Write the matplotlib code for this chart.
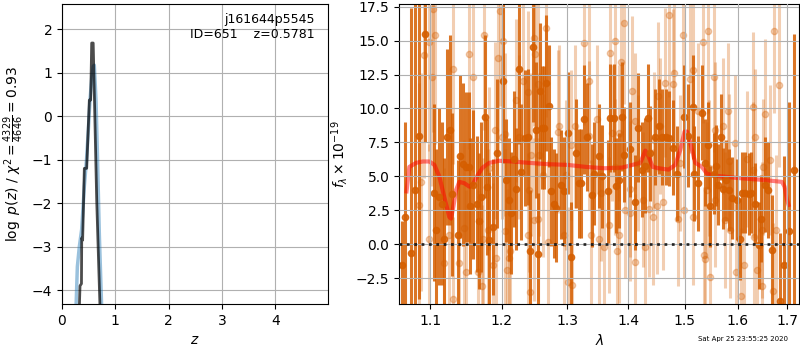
import matplotlib
matplotlib.use("Agg")
import matplotlib.pyplot as plt
from matplotlib.ticker import FormatStrFormatter, NullFormatter, NullLocator

# p(z) curves
pz_z = [0.263, 0.288, 0.325, 0.369, 0.42, 0.46, 0.494, 0.525, 0.56, 0.588, 0.606, 0.638, 0.663, 0.70, 0.744]
pz_logp = [-4.4, -3.46, -3.0, -2.6, -1.6, -1.0, -0.32, 0.37, 0.9, 1.15, 1.17, 0.37, -0.8, -2.7, -4.4]
chi_z = [0.325, 0.338, 0.365, 0.370, 0.387, 0.419, 0.463, 0.513, 0.538, 0.557, 0.585, 0.651, 0.713]
chi_logp = [-4.4, -3.9, -3.85, -2.8, -2.85, -1.2, -1.2, 0.37, 0.37, 1.68, 1.68, -1.93, -4.4]

# spectrum, beam 1 (dark)
wave_a = [1.0620, 1.0660, 1.0750, 1.0800, 1.0850, 1.0933, 1.1044, 1.1077, 1.1121, 1.1153,
          1.1180, 1.1227, 1.1262, 1.1290, 1.1373, 1.1410, 1.1442, 1.1490, 1.1526, 1.1550,
          1.1593, 1.1640, 1.1668, 1.1706, 1.1754, 1.1783, 1.1821, 1.1874, 1.1936, 1.2020,
          1.2064, 1.2102, 1.2142, 1.2176, 1.2216, 1.2261, 1.2291, 1.2351, 1.2386, 1.2416,
          1.2462, 1.2507, 1.2538, 1.2579, 1.2605, 1.2636, 1.2661, 1.2707, 1.2749, 1.2791,
          1.2827, 1.2895, 1.2942, 1.3006, 1.3053, 1.3133, 1.3181, 1.3213, 1.3262, 1.3322,
          1.3398, 1.3431, 1.3506, 1.3561, 1.3656, 1.3700, 1.3755, 1.3795, 1.3839, 1.3896,
          1.3923, 1.4038, 1.4112, 1.4171, 1.4240, 1.4298, 1.4345, 1.4385, 1.4461, 1.4543,
          1.4591, 1.4663, 1.4710, 1.4782, 1.4861, 1.4982, 1.5062, 1.5146, 1.5172, 1.5256,
          1.5320, 1.5382, 1.5433, 1.5471, 1.5540, 1.5591, 1.5623, 1.5673, 1.5712, 1.5777,
          1.5827, 1.5892, 1.5990, 1.6041, 1.6087, 1.6152, 1.6218, 1.6271, 1.6350, 1.6416,
          1.6470, 1.6550, 1.6605, 1.6686, 1.6856, 1.6931, 1.7030, 1.7150]
flux_a = [-1.5, 2.0, -0.6, 4.0, 8.0, 15.5, 3.8, 1.05, 3.5, 3.0,
          0.37, 7.9, 8.4, 3.7, 0.7, 6.5, 5.9, 5.7, 5.7, 2.8,
          4.4, 3.0, 1.75, 3.5, 9.4, 4.2, 0.3, 1.3, 6.7, 12.0,
          4.7, 3.3, 2.3, 6.3, 4.1, 12.9, 5.3, 7.8, 7.9, -0.5,
          14.5, 8.4, -0.7, 11.3, 8.6, 8.6, 11.9, 10.2, 3.9, 3.0,
          2.7, 4.4, 3.9, 8.2, -0.9, 6.7, 4.5, 4.5, 9.2, 7.9,
          3.6, 5.2, 6.5, 5.0, 3.9, 9.3, 9.3, 4.3, 4.7, 9.4,
          6.6, 7.0, 3.1, 8.6, 5.5, 5.8, 9.3, 6.7, 7.9, 8.7,
          7.9, 7.9, 7.8, 7.1, 5.2, 9.4, 8.0, 10.1, 5.2, 4.5,
          9.7, 6.0, 7.3, 2.8, 5.2, 5.8, 4.4, 7.9, 4.1, 4.7,
          4.0, 3.4, 3.3, 0.4, 3.8, 3.8, 3.7, 3.8, 3.0, -0.05,
          1.9, 4.4, 4.0, -0.4, -4.2, -1.5, 1.0, 5.5]
err_a = [3.2, 7.0, 18.0, 14.0, 12.0, 8.0, 6.5, 6.0, 6.5, 6.0,
         6.0, 6.5, 7.0, 6.0, 5.5, 6.0, 6.0, 5.5, 5.5, 5.0,
         5.5, 5.0, 5.0, 5.5, 6.0, 5.0, 5.0, 5.0, 5.5, 6.0,
         4.5, 4.5, 4.5, 5.0, 4.5, 5.5, 5.0, 5.0, 5.0, 4.5,
         5.5, 5.0, 4.5, 5.0, 4.5, 4.5, 5.0, 4.5, 4.0, 4.0,
         4.0, 4.0, 4.0, 4.5, 4.0, 4.0, 4.0, 4.0, 4.0, 4.0,
         3.8, 3.8, 3.8, 3.8, 3.8, 4.0, 4.0, 3.5, 3.5, 4.0,
         3.5, 3.5, 3.5, 4.0, 3.5, 3.5, 4.0, 3.5, 3.5, 3.5,
         3.5, 3.5, 3.5, 3.5, 3.5, 3.8, 3.8, 3.8, 3.5, 3.5,
         3.5, 3.2, 3.2, 3.0, 3.0, 3.0, 3.0, 3.2, 3.0, 3.0,
         3.0, 3.0, 3.0, 3.0, 3.0, 3.0, 3.0, 3.0, 3.0, 3.2,
         3.2, 3.5, 3.5, 4.0, 5.0, 8.0, 9.5, 10.0]

# spectrum, beam 2 (light)
wave_b = [1.0854, 1.0880, 1.0920, 1.0977, 1.0980, 1.1023, 1.1031, 1.1058, 1.1180, 1.1249,
          1.1304, 1.1310, 1.1396, 1.1456, 1.1490, 1.1536, 1.1593, 1.1664, 1.1710, 1.1725,
          1.1739, 1.1796, 1.1821, 1.1879, 1.1908, 1.1918, 1.1947, 1.1980, 1.2005, 1.2014,
          1.2053, 1.2055, 1.2078, 1.2112, 1.2127, 1.2212, 1.2250, 1.2311, 1.2392, 1.2393,
          1.2401, 1.2427, 1.2442, 1.2478, 1.2479, 1.2503, 1.2544, 1.2546, 1.2553, 1.2620,
          1.2671, 1.2697, 1.2848, 1.2864, 1.2942, 1.2985, 1.3012, 1.3064, 1.3075, 1.3117,
          1.3262, 1.3342, 1.3354, 1.3381, 1.3479, 1.3506, 1.3550, 1.3588, 1.3672, 1.3689,
          1.3728, 1.3772, 1.3784, 1.3812, 1.3840, 1.3851, 1.3880, 1.3924, 1.3953, 1.4026,
          1.4038, 1.4067, 1.4112, 1.4124, 1.4171, 1.4258, 1.4298, 1.4356, 1.4427, 1.4445,
          1.4505, 1.4523, 1.4561, 1.4610, 1.4638, 1.4723, 1.4782, 1.4813, 1.4872, 1.4921,
          1.4963, 1.4981, 1.5104, 1.5146, 1.5147, 1.5246, 1.5332, 1.5350, 1.5382, 1.5414,
          1.5425, 1.5458, 1.5477, 1.5540, 1.5559, 1.5572, 1.5720, 1.5751, 1.5815, 1.5827,
          1.5846, 1.5943, 1.5971, 1.6068, 1.6119, 1.6186, 1.6297, 1.6298, 1.6317, 1.6350,
          1.6384, 1.6484, 1.6485, 1.6496, 1.6536, 1.6652, 1.6698, 1.6719, 1.6774, 1.6821]
flux_b = [2.9, 4.6, 13.9, 14.9, 0.4, 12.3, 17.3, 15.4, -1.4, 0.7,
          12.9, -4.0, -1.4, 1.2, -2.0, 14.0, 12.3, -2.0, -3.1, 0.37,
          15.4, 1.05, 5.6, -1.5, 8.4, -1.0, 13.7, 17.2, 7.9, 15.0,
          8.1, 1.0, -1.9, -1.0, -0.5, 10.6, 7.9, 12.0, 11.2, 0.7,
          4.0, -3.5, 6.6, 15.2, 1.8, 14.0, 11.8, 1.85, 6.6, 5.1,
          15.9, 0.2, 8.3, 8.7, 0.7, 5.1, -2.75, 7.3, -3.0, 8.7,
          14.8, 12.0, 8.0, 0.7, 9.2, 0.4, 3.8, -0.2, 1.4, 14.1,
          8.2, 15.0, 5.7, -0.5, 8.2, 0.7, 13.4, 16.3, 2.5, 2.3,
          4.1, 11.3, -1.3, 9.1, 6.0, 3.3, -0.2, 2.6, 2.0, 7.7,
          2.85, 10.9, 8.7, 3.1, 11.9, 16.85, 11.8, 12.6, 1.9, 6.0,
          15.4, 2.5, 12.2, 2.0, 12.8, 9.8, 14.9, -0.8, -1.1, 4.0,
          15.7, 5.6, -2.4, 12.3, 8.4, 3.3, 8.7, 1.8, 9.8, 6.1,
          1.05, 7.45, -2.0, -3.8, -1.5, 6.3, 10.1, 5.5, 0.56, 7.9,
          -1.85, 1.05, -3.1, 5.7, 9.6, 6.2, -3.4, 15.7, 1.05, 11.7]
err_b = [9, 8, 9, 8, 7, 8, 9, 8, 7, 7,
         7, 6, 6.5, 6.5, 6, 7, 7, 6, 6, 6,
         7, 6, 6, 6, 6.5, 6, 7, 7, 6, 7,
         6, 6, 6, 6, 5.5, 6, 6, 6.5, 6, 6,
         6, 5.5, 6, 6.5, 6, 6.5, 6, 6, 6, 6,
         6.5, 6, 6, 6, 5.5, 5.5, 5.5, 5.5, 5.5, 6,
         6, 6, 5.5, 5.5, 5.5, 5, 5, 5, 5, 6,
         5, 6, 5, 5, 5, 5, 5.5, 6, 5, 5,
         5, 5.5, 5, 5, 5, 5, 5, 5, 5, 5,
         5, 5.5, 5, 5, 5.5, 6, 5.5, 5.5, 5, 5,
         6, 5, 5.5, 5, 5.5, 5, 6, 5, 5, 5,
         6, 5, 5, 5.5, 5, 5, 5, 5, 5, 5,
         5, 5, 5, 5, 5, 5, 5.5, 5, 5, 5,
         5, 5, 5, 5, 5.5, 5.5, 5, 6, 5.5, 6]

# best-fit model
model_wave = [1.0685, 1.0722, 1.0812, 1.0900, 1.0987, 1.1054, 1.1121, 1.1188, 1.1258, 1.1281,
              1.1314, 1.1351, 1.1396, 1.1466, 1.1536, 1.1583, 1.1654, 1.1725, 1.1821, 1.1965,
              1.215, 1.24, 1.27, 1.30, 1.33, 1.36, 1.39, 1.4211, 1.4298, 1.4356,
              1.4427, 1.4534, 1.4710, 1.4830, 1.4921, 1.4999, 1.5043, 1.5104, 1.5196, 1.5320,
              1.5414, 1.5572, 1.5957, 1.6484, 1.6891, 1.6944, 1.6994, 1.7028]
model_flux = [3.9, 5.7, 6.0, 6.1, 6.1, 5.85, 5.0, 3.5, 2.0, 1.9,
              2.8, 4.0, 4.6, 4.5, 4.25, 4.4, 5.1, 5.65, 6.0, 6.15,
              6.1, 6.0, 5.9, 5.85, 5.7, 5.6, 5.65, 6.0, 6.9, 6.45,
              5.7, 5.6, 5.5, 5.85, 6.95, 8.3, 8.3, 7.45, 6.0, 5.7,
              5.2, 5.05, 4.9, 4.75, 4.6, 4.25, 3.3, 2.9]

lam_ticks = [1.1, 1.2, 1.3, 1.4, 1.5, 1.6, 1.7]
orange = (0.835, 0.369, 0.0)

fig = plt.figure(figsize=(8, 3.5), dpi=100)
ax1 = fig.add_axes([0.0775, 0.131, 0.3325, 0.858])
ax2 = fig.add_axes([0.499, 0.131, 0.5, 0.858])

ax1.plot(pz_z, pz_logp, color="tab:blue", alpha=0.45, lw=2.5)
ax1.plot(chi_z, chi_logp, color="k", alpha=0.7, lw=2)
ax1.set_xlim(0, 4.99)
ax1.set_ylim(-4.32, 2.58)
ax1.set_xticks([0, 1, 2, 3, 4])
ax1.set_yticks([-4, -3, -2, -1, 0, 1, 2])
ax1.grid()
ax1.set_xlabel(r"$z$")
ax1.set_ylabel(r"$\log\ p(z)$ / $\chi^2=\frac{4329}{4646}=0.93$")
ax1.text(0.95, 0.97, "j161644p5545\nID=651    z=0.5781", transform=ax1.transAxes,
         ha="right", va="top", fontsize=9)

ax2.errorbar(wave_b, flux_b, yerr=err_b, color=orange, alpha=0.3, marker="o", ms=4.5,
             linestyle="none", elinewidth=2.2)
ax2.errorbar(wave_a, flux_a, yerr=err_a, color=orange, alpha=0.85, marker="o", ms=4.5,
             linestyle="none", elinewidth=2.2)
ax2.plot(model_wave, model_flux, color="r", alpha=0.5, lw=3)
ax2.axhline(0, color="k", linestyle=":", lw=2, alpha=0.8, zorder=10)
ax2.set_xscale("log")
ax2.set_xlim(1.059, 1.725)
ax2.set_ylim(-4.4, 17.7)
ax2.set_xticks(lam_ticks)
ax2.xaxis.set_major_formatter(FormatStrFormatter("%.1f"))
ax2.xaxis.set_minor_locator(NullLocator())
ax2.xaxis.set_minor_formatter(NullFormatter())
ax2.set_yticks([-2.5, 0, 2.5, 5, 7.5, 10, 12.5, 15, 17.5])
ax2.grid()
ax2.set_axisbelow(False)
ax2.set_xlabel(r"$\lambda$")
ax2.set_ylabel(r"$f_\lambda\times10^{-19}$")

fig.text(0.985, 0.03, "Sat Apr 25 23:55:25 2020", ha="right", va="center", fontsize=5)

fig.savefig("out.png", dpi=100)
